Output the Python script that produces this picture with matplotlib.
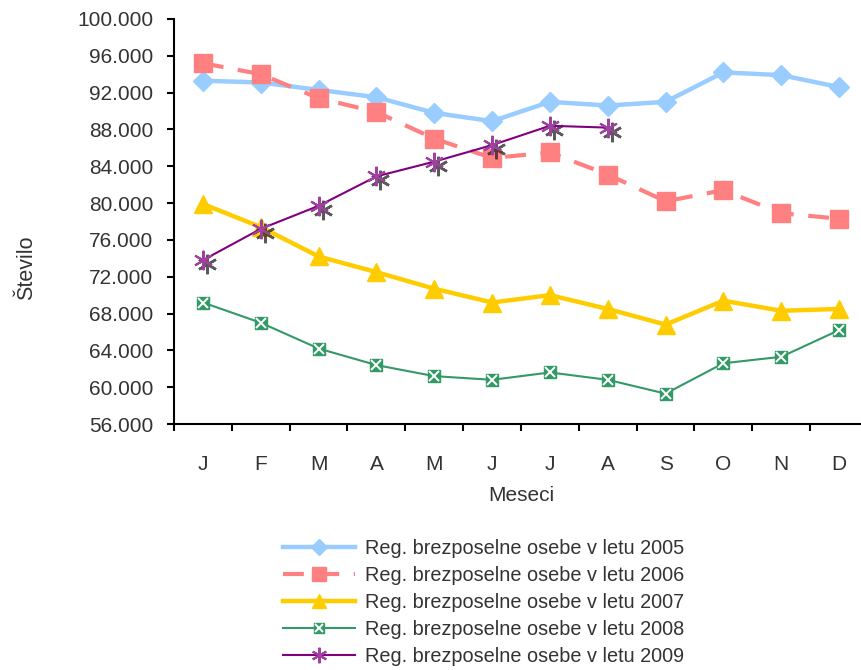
import matplotlib
matplotlib.use("Agg")
import matplotlib.pyplot as plt
import matplotlib.transforms as mtransforms
from matplotlib.ticker import FuncFormatter, FixedLocator

plt.rcParams['font.family'] = ['Liberation Sans', 'DejaVu Sans']

months = ["J", "F", "M", "A", "M", "J", "J", "A", "S", "O", "N", "D"]
y2005 = [93300, 93100, 92300, 91500, 89800, 88900, 91000, 90600, 91000, 94200, 93900, 92600]
y2006 = [95200, 94000, 91400, 89900, 87000, 84900, 85500, 83100, 80200, 81400, 78900, 78300]
y2007 = [79900, 77400, 74200, 72500, 70700, 69200, 70000, 68500, 66800, 69400, 68300, 68500]
y2008 = [69200, 67000, 64200, 62400, 61200, 60800, 61600, 60800, 59300, 62600, 63300, 66200]
y2009 = [73800, 77200, 79700, 82900, 84500, 86300, 88400, 88200]
labels = ["Reg. brezposelne osebe v letu 2005", "Reg. brezposelne osebe v letu 2006",
          "Reg. brezposelne osebe v letu 2007", "Reg. brezposelne osebe v letu 2008",
          "Reg. brezposelne osebe v letu 2009"]

fig = plt.figure(figsize=(8.62, 6.7), dpi=100)
ax = fig.add_axes([174 / 862, 1 - 424 / 670, 694 / 862, 405 / 670])

x = list(range(12))
x9 = list(range(len(y2009)))

l1, = ax.plot(x, y2005, color="#99CCFF", lw=3.2, marker="D", ms=10, mec="#99CCFF")
l2, = ax.plot(x, y2006, color="#FF8080", lw=3, marker="s", ms=12.5, dashes=(5, 3.5))
l3, = ax.plot(x, y2007, color="#FFCC00", lw=3.2, marker="^", ms=13)
l4a, = ax.plot(x, y2008, color="#339966", lw=1.5, marker="s", ms=9)
l4b, = ax.plot(x, y2008, ls="none", marker="x", ms=7, mew=1.4, color="white")

# senca markerjev 2009
shadow = mtransforms.offset_copy(ax.transData, fig=fig, x=4, y=-4, units="dots")
ax.plot(x9, y2009, ls="none", marker=(6, 2, 0), ms=14, mew=1.8, color="#222222",
        alpha=0.75, transform=shadow)
l5, = ax.plot(x9, y2009, color="#800080", lw=1.5, marker=(6, 2, 0), ms=14, mew=1.5,
              mec="#A040A0")

ax.set_xlim(-0.5, 11.5)
ax.set_ylim(56000, 100000)
ax.set_yticks(range(56000, 100001, 4000))
ax.yaxis.set_major_formatter(FuncFormatter(lambda v, p: f"{v:,.0f}".replace(",", ".")))
ax.set_xticks(x)
ax.set_xticklabels(months)
ax.xaxis.set_minor_locator(FixedLocator([i - 0.5 for i in range(13)]))
ax.tick_params(axis="x", which="major", length=0, pad=22, labelsize=15, colors="#333333")
ax.tick_params(axis="x", which="minor", length=5, width=1.5, direction="out")
ax.tick_params(axis="y", length=5, width=1.5, direction="out", pad=10, labelsize=15,
               labelcolor="#333333")

for s in ["top", "right"]:
    ax.spines[s].set_visible(False)
for s in ["left", "bottom"]:
    ax.spines[s].set_linewidth(1.5)

ax.set_xlabel("Meseci", fontsize=15, color="#333333", labelpad=9)
ax.set_ylabel("Število", fontsize=15.5, color="#333333")
ax.yaxis.set_label_coords(-0.198, 0.385)

fig.legend([l1, l2, l3, (l4a, l4b), l5], labels, loc="upper center",
           bbox_to_anchor=(0.561, 0.222), frameon=False, fontsize=14.3,
           handlelength=3.6, labelspacing=0.4, handletextpad=0.5,
           labelcolor="#333333", markerscale=0.8)

fig.savefig("out.png", dpi=100)
